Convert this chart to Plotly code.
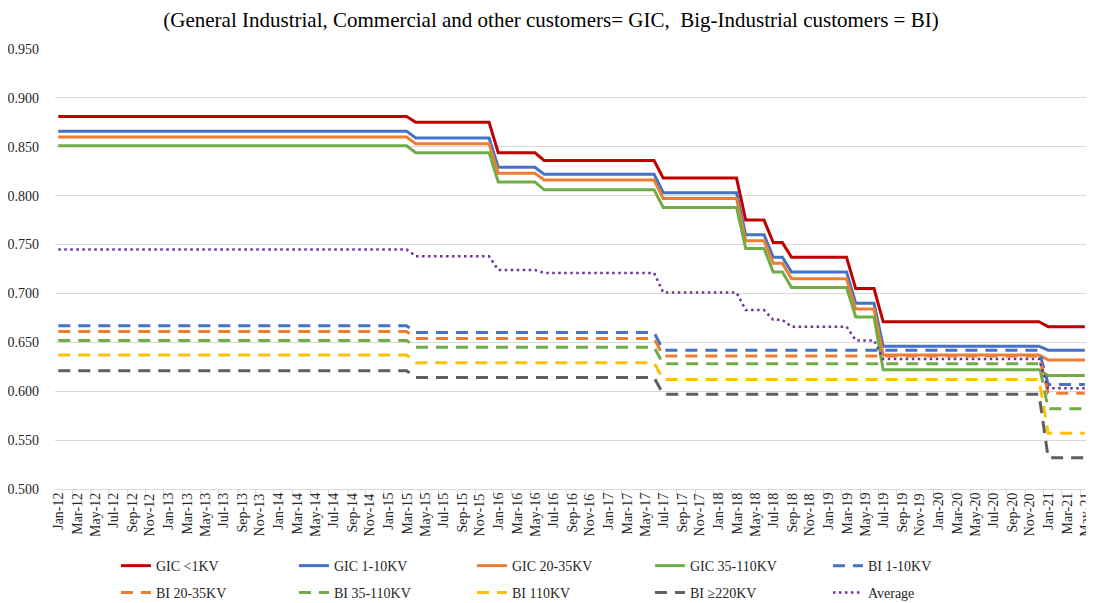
import plotly.graph_objects as go

# ---- data ----
month_abbr = ["Jan", "Feb", "Mar", "Apr", "May", "Jun", "Jul", "Aug", "Sep", "Oct", "Nov", "Dec"]
months = [f"{m}-{y:02d}" for y in range(12, 22) for m in month_abbr][:113]  # Jan-12 .. May-21

# first month of each tariff period (tariff changes)
period_starts = ["Jan-12", "Apr-15", "Jan-16", "Jun-16", "Jul-17", "Apr-18",
                 "Jul-18", "Sep-18", "Apr-19", "Jul-19", "Jan-21"]

gic_lt1 = [0.881, 0.875, 0.844, 0.836, 0.818, 0.775, 0.752, 0.737, 0.705, 0.671, 0.666]
gic_1_10 = [0.866, 0.859, 0.829, 0.822, 0.803, 0.760, 0.737, 0.722, 0.690, 0.646, 0.642]
gic_20_35 = [0.860, 0.853, 0.823, 0.816, 0.797, 0.754, 0.731, 0.715, 0.684, 0.637, 0.632]
gic_35_110 = [0.851, 0.844, 0.814, 0.806, 0.788, 0.746, 0.722, 0.706, 0.676, 0.622, 0.616]
bi_1_10 = [0.667, 0.660, 0.660, 0.660, 0.642, 0.642, 0.642, 0.642, 0.642, 0.642, 0.607]
bi_20_35 = [0.661, 0.654, 0.654, 0.654, 0.636, 0.636, 0.636, 0.636, 0.636, 0.636, 0.598]
bi_35_110 = [0.652, 0.645, 0.645, 0.645, 0.628, 0.628, 0.628, 0.628, 0.628, 0.628, 0.582]
bi_110 = [0.637, 0.629, 0.629, 0.629, 0.612, 0.612, 0.612, 0.612, 0.612, 0.612, 0.557]
bi_220 = [0.621, 0.614, 0.614, 0.614, 0.597, 0.597, 0.597, 0.597, 0.597, 0.597, 0.532]
average = [0.745, 0.738, 0.724, 0.721, 0.701, 0.683, 0.673, 0.666, 0.652, 0.633, 0.603]

series_names = ["GIC <1KV", "GIC 1-10KV", "GIC 20-35KV", "GIC 35-110KV", "BI 1-10KV",
                "BI 20-35KV", "BI 35-110KV", "BI 110KV", "BI ≥220KV", "Average"]
series_levels = [gic_lt1, gic_1_10, gic_20_35, gic_35_110, bi_1_10,
                 bi_20_35, bi_35_110, bi_110, bi_220, average]

y_ticks = [0.50, 0.55, 0.60, 0.65, 0.70, 0.75, 0.80, 0.85, 0.90, 0.95]

# ---- styles ----
colors = ["#C00000", "#4472C4", "#ED7D31", "#70AD47", "#4472C4",
          "#ED7D31", "#70AD47", "#FFC000", "#5F5F5F", "#7030A0"]
dashes = ["solid"] * 4 + ["12px,8px"] * 5 + ["2.5px,3.5px"]
widths = [3] * 9 + [2.5]
legend_ids = ["legend"] * 5 + ["legend2"] * 5

start_idx = [months.index(p) for p in period_starts]


def expand(levels):
    out = []
    for i in range(len(months)):
        k = max(j for j, s in enumerate(start_idx) if s <= i)
        out.append(levels[k])
    return out


FONT = "Liberation Serif, Times New Roman, serif"

fig = go.Figure()
x = list(range(len(months)))
for name, lv, c, d, w, lg in zip(series_names, series_levels, colors, dashes, widths, legend_ids):
    fig.add_trace(go.Scatter(
        x=x, y=expand(lv), mode="lines", name=name, legend=lg,
        line=dict(color=c, width=w, dash=d),
        hovertemplate="%{text}: %{y:.3f}<extra>" + name + "</extra>", text=months,
    ))

# x tick labels (every second month), rotated, as axis-anchored annotations
for i in x[::2]:
    fig.add_annotation(
        x=i, xref="x", y=0, yref="paper", text=months[i], showarrow=False,
        textangle=-90, xanchor="center", yanchor="top", yshift=-2,
        font=dict(family=FONT, size=14, color="#262626"),
    )

legend_common = dict(orientation="h", xanchor="left", yanchor="top",
                     xref="container", yref="container",
                     entrywidth=133, entrywidthmode="pixels",
                     font=dict(family=FONT, size=14, color="#262626"),
                     bgcolor="rgba(0,0,0,0)", traceorder="normal")

# the page body adds an 8px offset; the figure is sized to fill the rest of the window
fig.update_layout(
    width=1086, height=595,
    margin=dict(l=47, r=0, t=41, b=114, autoexpand=False),
    paper_bgcolor="white", plot_bgcolor="white",
    font=dict(family=FONT, color="#262626"),
    title=dict(
        text="(General Industrial, Commercial and other customers= GIC,  Big-Industrial customers = BI)",
        x=0.5, xanchor="center", y=0.9798, yanchor="middle",
        font=dict(family=FONT, size=21, color="#000000"),
    ),
    xaxis=dict(
        range=[-0.36, 113.0],
        tickmode="array", tickvals=x[::2], showticklabels=False,
        showgrid=False, showline=True, linecolor="#D9D9D9", linewidth=1,
        ticks="", ticklen=0, zeroline=False,
        minor=dict(tickmode="array", tickvals=[v - 0.5 for v in x[::2]] + [len(months) - 0.5],
                   ticks="outside", ticklen=5, tickcolor="#D9D9D9", showgrid=False),
    ),
    yaxis=dict(
        range=[0.5, 0.95], tickmode="array", tickvals=y_ticks, tickformat=".3f",
        tickfont=dict(family=FONT, size=14, color="#262626"),
        showgrid=True, gridcolor="#D9D9D9", gridwidth=1, zeroline=False,
        showline=False, ticks="", ticklabelstandoff=15,
    ),
    legend=dict(x=0.0994, y=0.089, **legend_common),
    legend2=dict(x=0.0994, y=0.0437, **legend_common),
    showlegend=True,
)

fig.write_html("out.html")
